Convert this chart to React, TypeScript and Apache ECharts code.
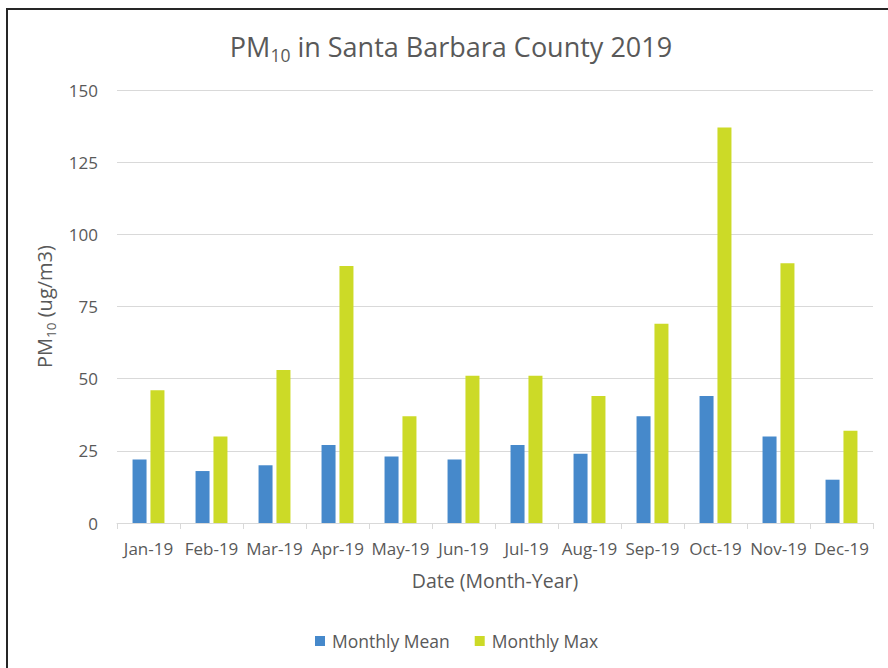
import React, { useEffect, useRef } from "react";
import * as echarts from "echarts";

const months = ["Jan-19", "Feb-19", "Mar-19", "Apr-19", "May-19", "Jun-19", "Jul-19", "Aug-19", "Sep-19", "Oct-19", "Nov-19", "Dec-19"];
const monthlyMean = [22, 18, 20, 27, 23, 22, 27, 24, 37, 44, 30, 15];
const monthlyMax = [46, 30, 53, 89, 37, 51, 51, 44, 69, 137, 90, 32];
const seriesNames = ["Monthly Mean", "Monthly Max"];

const FONT = "'Open Sans', sans-serif";
const TXT = "#595959";

export default function App() {
  const ref = useRef<HTMLDivElement>(null);
  useEffect(() => {
    if (!ref.current) return;
    const chart = echarts.init(ref.current, null, { renderer: "svg" });
    chart.setOption({
      animation: false,
      backgroundColor: "#ffffff",
      textStyle: { fontFamily: FONT },
      graphic: [
        {
          type: "rect",
          z: -10,
          shape: { x: 7, y: 9, width: 1000, height: 1000 },
          style: { fill: "none", stroke: "#262626", lineWidth: 2 },
        },
      ],
      title: {
        left: "center",
        top: 23,
        text: "{a|PM}{b|10}{a| in Santa Barbara County 2019}",
        textStyle: {
          fontWeight: "normal",
          rich: {
            a: { fontFamily: FONT, fontSize: 27, fontWeight: "normal", color: TXT },
            b: { fontFamily: FONT, fontSize: 17.5, fontWeight: "normal", color: TXT, padding: [18, 0, 0, 0] },
          },
        },
      },
      legend: {
        left: 315,
        top: 632,
        padding: 0,
        icon: "rect",
        itemWidth: 10,
        itemHeight: 10,
        itemGap: 25,
        data: seriesNames,
        textStyle: { fontFamily: FONT, fontSize: 17.5, color: TXT, padding: [0, 0, 0, 2] },
      },
      grid: { left: 117, right: 29, top: 90, bottom: 145 },
      xAxis: {
        type: "category",
        data: months,
        name: "Date (Month-Year)",
        nameLocation: "middle",
        nameGap: 47,
        nameTextStyle: { fontFamily: FONT, fontSize: 19.5, color: TXT },
        axisLine: { lineStyle: { color: "#d9d9d9", width: 1 } },
        axisTick: { show: true, length: 6, lineStyle: { color: "#d9d9d9" } },
        axisLabel: { fontFamily: FONT, fontSize: 17, color: TXT, margin: 17, interval: 0 },
      },
      yAxis: {
        type: "value",
        min: 0,
        max: 150,
        interval: 25,
        name: "{a|PM}{b|10}{a| (ug/m3)}",
        nameLocation: "middle",
        nameRotate: 90,
        nameGap: 57,
        nameTextStyle: {
          rich: {
            a: { fontFamily: FONT, fontSize: 20, color: TXT },
            b: { fontFamily: FONT, fontSize: 13.5, color: TXT, padding: [12, 0, 0, 0] },
          },
        },
        axisLine: { show: false },
        axisTick: { show: false },
        splitLine: { lineStyle: { color: "#d9d9d9", width: 1 } },
        axisLabel: { fontFamily: FONT, fontSize: 17, color: TXT, margin: 19 },
      },
      series: [
        {
          name: seriesNames[0],
          type: "bar",
          data: monthlyMean,
          barWidth: 14,
          barGap: "28%",
          itemStyle: { color: "#4689CB" },
        },
        {
          name: seriesNames[1],
          type: "bar",
          data: monthlyMax,
          barWidth: 14,
          itemStyle: { color: "#CCDA27" },
        },
      ],
    });
    return () => chart.dispose();
  }, []);
  return (
    <div style={{ position: "fixed", left: 0, top: 0, width: 888, height: 668, overflow: "hidden", background: "#fff" }}>
      <div ref={ref} style={{ width: 902, height: 668 }} />
    </div>
  );
}
